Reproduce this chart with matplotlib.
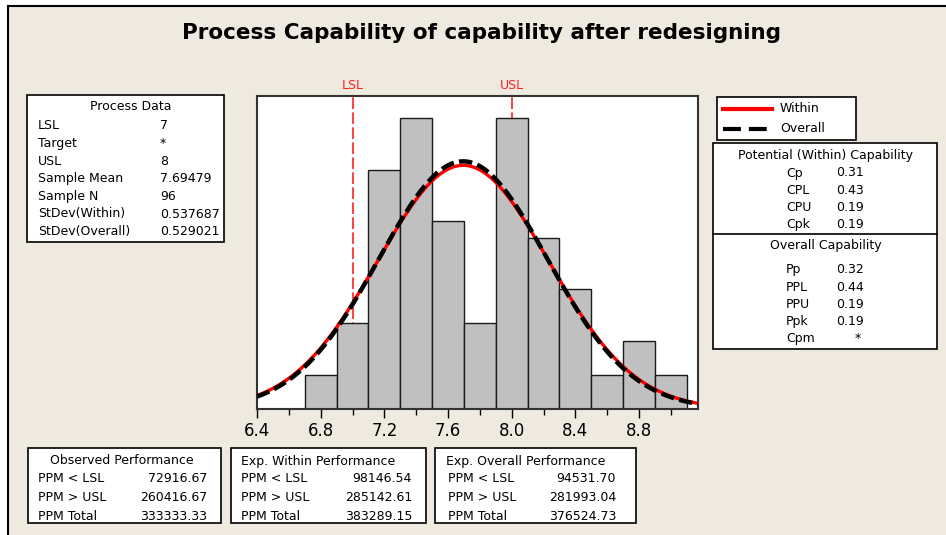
import numpy as np
import matplotlib.pyplot as plt
from matplotlib.patches import Rectangle
from matplotlib.lines import Line2D

# Histogram data (bin centres, counts)
bin_centers = [6.8, 7.0, 7.2, 7.4, 7.6, 7.8, 8.0, 8.2, 8.4, 8.6, 8.8, 9.0]
counts = [2, 5, 14, 17, 11, 5, 17, 10, 7, 2, 4, 2]
bin_width = 0.2

# Process data
lsl, usl = 7, 8
sample_mean = 7.69479
sample_n = 96
sd_within = 0.537687
sd_overall = 0.529021

process_labels = ["LSL", "Target", "USL", "Sample Mean", "Sample N",
                  "StDev(Within)", "StDev(Overall)"]
process_values = ["7", "*", "8", "7.69479", "96", "0.537687", "0.529021"]

within_labels = ["Cp", "CPL", "CPU", "Cpk"]
within_values = ["0.31", "0.43", "0.19", "0.19"]
overall_labels = ["Pp", "PPL", "PPU", "Ppk", "Cpm"]
overall_values = ["0.32", "0.44", "0.19", "0.19", "*"]

ppm_labels = ["PPM < LSL", "PPM > USL", "PPM Total"]
observed_ppm = ["72916.67", "260416.67", "333333.33"]
exp_within_ppm = ["98146.54", "285142.61", "383289.15"]
exp_overall_ppm = ["94531.70", "281993.04", "376524.73"]

xtick_major = [6.4, 6.8, 7.2, 7.6, 8.0, 8.4, 8.8]
xtick_minor = [6.6, 7.0, 7.4, 7.8, 8.2, 8.6, 9.0]

W, H = 946, 535
BG = "#EEEAE0"
FS = 9


def fx(x):
    return x / W


def fy(y):
    return 1 - y / H


fig = plt.figure(figsize=(W / 100, H / 100), dpi=100)
fig.patch.set_facecolor("white")

# beige panel with black border on top/left
fig.add_artist(Rectangle((fx(8), fy(560)), 1.0, (560 - 6) / H, transform=fig.transFigure,
                         facecolor=BG, edgecolor="black", lw=1.5, zorder=-2))


def box(x0, y0, x1, y1):
    fig.add_artist(Rectangle((fx(x0), fy(y1)), (x1 - x0) / W, (y1 - y0) / H,
                             transform=fig.transFigure, facecolor="white",
                             edgecolor="black", lw=1.2, zorder=1))


def txt(x, y, s, ha="left", **kw):
    fig.text(fx(x), fy(y), s, ha=ha, va="center", fontsize=FS, zorder=3, **kw)


fig.text(fx(481), fy(33), "Process Capability of capability after redesigning",
         ha="center", va="center", fontsize=15.5, fontweight="bold")

# main histogram
ax = fig.add_axes([fx(257), fy(409), (698 - 257) / W, (409 - 96) / H])
ax.bar(bin_centers, counts, width=bin_width, color="#C0C0C0",
       edgecolor="#1a1a1a", linewidth=1.0, zorder=2)
ax.axvline(lsl, color="#FF2020", ls=(0, (7, 2)), lw=1.2, zorder=1)
ax.axvline(usl, color="#FF2020", ls=(0, (7, 2)), lw=1.2, zorder=1)

xs = np.linspace(6.4, 9.17, 400)
scale = sample_n * bin_width
y_within = scale * np.exp(-0.5 * ((xs - sample_mean) / sd_within) ** 2) / (sd_within * np.sqrt(2 * np.pi))
y_overall = scale * np.exp(-0.5 * ((xs - sample_mean) / sd_overall) ** 2) / (sd_overall * np.sqrt(2 * np.pi))
ax.plot(xs, y_within, color="#FF0000", lw=2.4, zorder=3)
ax.plot(xs, y_overall, color="black", lw=3.2, dashes=(3, 1.2), zorder=4)

ax.set_xlim(6.4, 9.17)
ax.set_ylim(0, 18.3)
ax.set_xticks(xtick_major)
ax.set_xticklabels([f"{v:.1f}" for v in xtick_major])
ax.set_xticks(xtick_minor, minor=True)
ax.tick_params(axis="x", which="major", length=6.5, width=1, labelsize=12, pad=3)
ax.tick_params(axis="x", which="minor", length=4, width=1)
ax.set_yticks([])
for sp in ax.spines.values():
    sp.set_color("#333333")
    sp.set_linewidth(1.5)

ax.text(lsl, 18.55, "LSL", color="#FF2020", ha="center", va="bottom", fontsize=FS)
ax.text(usl, 18.55, "USL", color="#FF2020", ha="center", va="bottom", fontsize=FS)

# Process Data box
box(27, 95, 224, 242)
txt(131, 107, "Process Data", ha="center")
for i, (lab, val) in enumerate(zip(process_labels, process_values)):
    y = 126 + i * 17.6
    txt(38, y, lab)
    txt(160, y, val)

# legend box
box(717, 97, 856, 140)
fig.add_artist(Line2D([fx(723), fx(772)], [fy(109), fy(109)], transform=fig.transFigure,
                      color="#FF0000", lw=3, zorder=3))
fig.add_artist(Line2D([fx(723), fx(772)], [fy(129), fy(129)], transform=fig.transFigure,
                      color="black", lw=3, dashes=(4.3, 1.9), zorder=3))
txt(780, 109, "Within")
txt(780, 129, "Overall")

# capability box
box(713, 143, 937, 349)
fig.add_artist(Line2D([fx(713), fx(937)], [fy(234), fy(234)], transform=fig.transFigure,
                      color="black", lw=1.2, zorder=3))
txt(825, 156, "Potential (Within) Capability", ha="center")
for i, (lab, val) in enumerate(zip(within_labels, within_values)):
    y = 173 + i * 17.3
    txt(786, y, lab)
    txt(836, y, val)
txt(826, 246, "Overall Capability", ha="center")
for i, (lab, val) in enumerate(zip(overall_labels, overall_values)):
    y = 270 + i * 17.2
    txt(786, y, lab)
    if val == "*":
        txt(858, y, val, ha="center")
    else:
        txt(836, y, val)

# performance boxes
perf = [
    (28, 221, "Observed Performance", 122, "center", 38, 207, observed_ppm),
    (231, 426, "Exp. Within Performance", 241, "left", 241, 412, exp_within_ppm),
    (435, 636, "Exp. Overall Performance", 446, "left", 448, 616, exp_overall_ppm),
]
for x0, x1, title, tx, tha, lx, vx, vals in perf:
    box(x0, 448, x1, 523)
    txt(tx, 461, title, ha=tha)
    for i, (lab, val) in enumerate(zip(ppm_labels, vals)):
        y = 479 + i * 18.5
        txt(lx, y, lab)
        txt(vx, y, val, ha="right")

fig.savefig("out.png", dpi=100, facecolor=fig.get_facecolor())
